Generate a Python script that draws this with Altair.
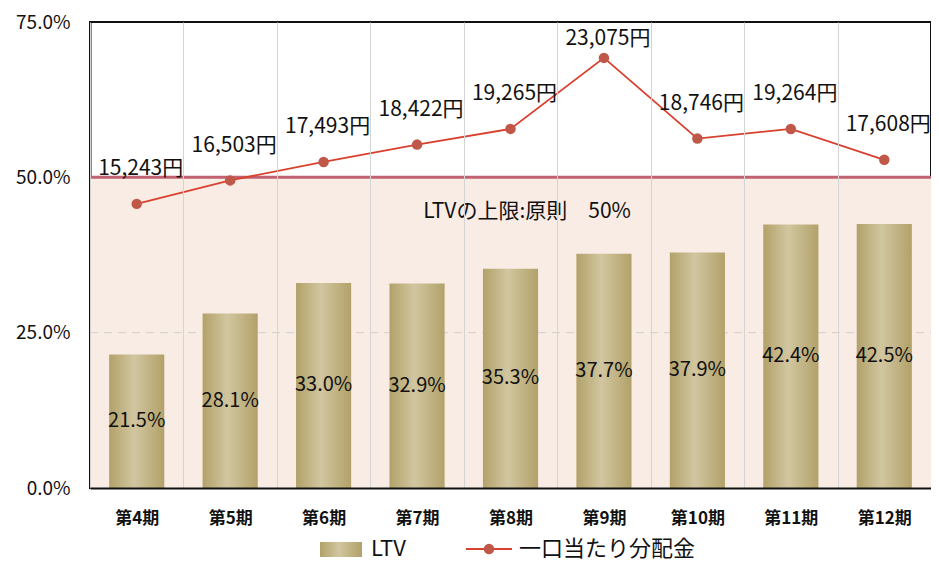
import altair as alt
import pandas as pd

periods = ["第4期", "第5期", "第6期", "第7期", "第8期", "第9期", "第10期", "第11期", "第12期"]
ltv_pct = [21.5, 28.1, 33.0, 32.9, 35.3, 37.7, 37.9, 42.4, 42.5]
dist_yen = [15243, 16503, 17493, 18422, 19265, 23075, 18746, 19264, 17608]
y_ticks = [0, 0.25, 0.5, 0.75]
ltv_cap = 0.5
cap_label = "LTVの上限:原則　50%"
legend_names = ["LTV", "一口当たり分配金"]

df = pd.DataFrame({"period": periods, "ltv": [v / 100 for v in ltv_pct], "yen": dist_yen})
one = pd.DataFrame({"a": [0]})

W, H = 841, 466
FONT = "Noto Sans CJK JP"
gold = alt.Gradient(
    gradient="linear",
    stops=[
        alt.GradientStop(color="#b2a169", offset=0),
        alt.GradientStop(color="#d1c6a0", offset=0.45),
        alt.GradientStop(color="#b2a169", offset=1),
    ],
    x1=0, x2=1, y1=0, y2=0,
)

xenc = alt.X(
    "period:N", sort=periods, title=None,
    scale=alt.Scale(paddingInner=0, paddingOuter=0),
    axis=alt.Axis(labelAngle=0, labelFontSize=17, labelFontWeight="bold", labelColor="#111",
                  labelPadding=22, ticks=False, grid=True, gridColor="#d4d4d4", tickBand="extent",
                  domainColor="#111", domainWidth=2, zindex=1),
)
yscale = alt.Scale(domain=[0, 0.75], nice=False)

pink = alt.Chart(one).mark_rect(color="#f9ece5").encode(
    y=alt.Y(datum=0, type="quantitative", scale=yscale,
            axis=alt.Axis(values=y_ticks, format=".1%", title=None, labelFontSize=19, labelColor="#111",
                          labelPadding=20, ticks=False, grid=False, domainColor="#111", domainWidth=2)),
    y2=alt.Y2(datum=ltv_cap),
    x=alt.value(0), x2=alt.value(W),
)
grid25 = alt.Chart(one).mark_rule(color="#cfcfcf", strokeDash=[8, 6], strokeWidth=1).encode(
    y=alt.Y(datum=0.25, type="quantitative", scale=yscale),
    x=alt.value(0), x2=alt.value(W),
)
bars = alt.Chart(df).mark_bar(color=gold, width=alt.RelativeBandSize(0.59)).encode(
    x=xenc,
    y=alt.Y("ltv:Q", scale=yscale),
)
bar_text = alt.Chart(df).transform_calculate(mid="datum.ltv / 2").mark_text(
    font=FONT, fontSize=20, color="#111", baseline="middle").encode(
    x=alt.X("period:N", sort=periods),
    y=alt.Y("mid:Q", scale=yscale),
    text=alt.Text("ltv:Q", format=".1%"),
)
cap_rule = alt.Chart(one).mark_rule(color="#c0626f", strokeWidth=3).encode(
    y=alt.Y(datum=ltv_cap, type="quantitative", scale=yscale),
    x=alt.value(0), x2=alt.value(W),
)
cap_text = alt.Chart(one).mark_text(font=FONT, fontSize=21, color="#111", baseline="middle").encode(
    x=alt.value(437),
    y=alt.Y(datum=0.445, type="quantitative", scale=yscale),
    text=alt.value(cap_label),
)

# legend
leg_swatch = alt.Chart(one).mark_rect(color=gold).encode(
    x=alt.value(230), x2=alt.value(272), y=alt.value(520), y2=alt.value(535))
leg_t1 = alt.Chart(one).mark_text(font=FONT, fontSize=22, color="#111", align="left", baseline="middle").encode(
    x=alt.value(281), y=alt.value(527), text=alt.value(legend_names[0]))
leg_line = alt.Chart(one).mark_rule(color="#d9402e", strokeWidth=2).encode(
    x=alt.value(376), x2=alt.value(422), y=alt.value(527))
leg_pt = alt.Chart(one).mark_circle(color="#c0584a", size=110, opacity=1).encode(
    x=alt.value(399), y=alt.value(527))
leg_t2 = alt.Chart(one).mark_text(font=FONT, fontSize=22, color="#111", align="left", baseline="middle").encode(
    x=alt.value(429), y=alt.value(527), text=alt.value(legend_names[1]))

pct_layer = alt.layer(pink, grid25, bars, bar_text, cap_rule, cap_text,
                      leg_swatch, leg_t1, leg_line, leg_pt, leg_t2)

yen_scale = alt.Scale(domain=[0, 25000], nice=False)
line = alt.Chart(df).mark_line(color="#d9402e", strokeWidth=1.8).encode(
    x=alt.X("period:N", sort=periods),
    y=alt.Y("yen:Q", scale=yen_scale, axis=None),
)
pts = alt.Chart(df).mark_circle(color="#c0584a", size=110, opacity=1).encode(
    x=alt.X("period:N", sort=periods),
    y=alt.Y("yen:Q", scale=yen_scale, axis=None),
)
# labels sit above each point, but stay inside the frame at the top
yen_text = alt.Chart(df).transform_calculate(
    lab="format(datum.yen, ',') + '円'",
    lab_y="min(datum.yen + 1850, 24100)",
).mark_text(font=FONT, fontSize=21, color="#111", dx=4, baseline="middle").encode(
    x=alt.X("period:N", sort=periods),
    y=alt.Y("lab_y:Q", scale=yen_scale, axis=None),
    text="lab:N",
)
yen_layer = alt.layer(line, pts, yen_text)

chart = alt.layer(pct_layer, yen_layer).resolve_scale(y="independent").properties(
    width=W, height=H,
    padding={"left": 82, "top": 14, "right": 0, "bottom": 75},
    autosize=alt.AutoSizeParams(type="none"),
).configure_view(stroke="#111", strokeWidth=2).configure_text(font=FONT).configure_axis(
    labelFont=FONT
)

chart.save("out.html", embed_options={"renderer": "svg", "actions": False})
